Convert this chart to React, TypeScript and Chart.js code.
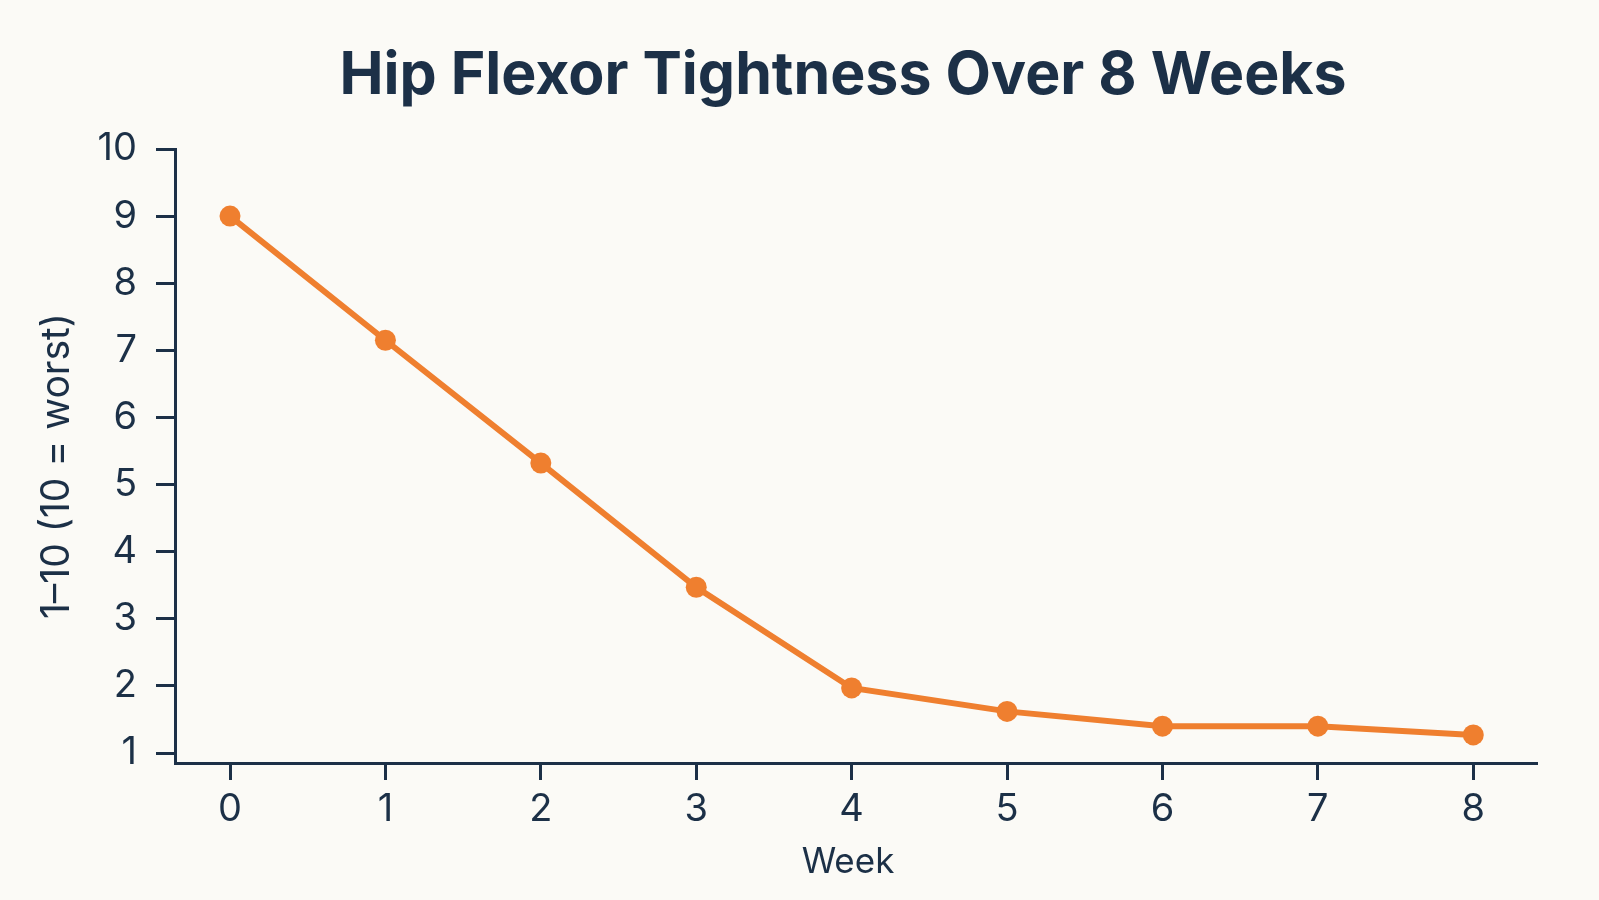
import React, { useEffect, useRef } from "react";
import { Chart, registerables } from "chart.js";

Chart.register(...registerables);

// Weekly self-rated tightness, 1–10 scale
const weeks = [0, 1, 2, 3, 4, 5, 6, 7, 8];
const tightness = [9.0, 7.15, 5.32, 3.47, 1.97, 1.62, 1.4, 1.4, 1.27];
const yTicks = [1, 2, 3, 4, 5, 6, 7, 8, 9, 10];
const chartTitle = "Hip Flexor Tightness Over 8 Weeks";
const xTitle = "Week";
const yTitle = "1–10 (10 = worst)";

const NAVY = "#1c3047";
const ORANGE = "#ef7f2f";
const BG = "#fbfaf6";
const FONT = "Inter, 'Noto Sans', sans-serif";

const background = {
  id: "pageBackground",
  beforeDraw(chart: Chart) {
    const { ctx, width, height } = chart;
    ctx.save();
    ctx.fillStyle = BG;
    ctx.fillRect(0, 0, width, height);
    ctx.restore();
  },
};

// Heading and axis captions, placed relative to the plot area
const captions = {
  id: "captions",
  afterDraw(chart: Chart) {
    const { ctx, chartArea } = chart;
    const midX = (chartArea.left + chartArea.right) / 2;
    const midY = (chartArea.top + chartArea.bottom) / 2;
    ctx.save();
    ctx.fillStyle = NAVY;
    ctx.textAlign = "center";

    ctx.font = `bold 59px ${FONT}`;
    ctx.textBaseline = "alphabetic";
    ctx.fillText(chartTitle, midX - 13, 94);

    ctx.font = `35px ${FONT}`;
    ctx.textBaseline = "middle";
    ctx.fillText(xTitle, midX - 8, chart.height - 38);

    ctx.font = `39px ${FONT}`;
    ctx.translate(57, midY + 10);
    ctx.rotate(-Math.PI / 2);
    ctx.fillText(yTitle, 0, 0);
    ctx.restore();
  },
};

export default function App() {
  const ref = useRef<HTMLCanvasElement | null>(null);

  useEffect(() => {
    document.body.style.margin = "0";
    if (!ref.current) return;
    const chart = new Chart(ref.current, {
      type: "line",
      data: {
        datasets: [
          {
            label: "Tightness",
            data: weeks.map((w, i) => ({ x: w, y: tightness[i] })),
            borderColor: ORANGE,
            backgroundColor: ORANGE,
            borderWidth: 6,
            pointRadius: 10.5,
            pointBorderWidth: 0,
            pointBackgroundColor: ORANGE,
            tension: 0,
          },
        ],
      },
      options: {
        responsive: false,
        animation: false,
        layout: { padding: { left: 0, right: 62, top: 149, bottom: 0 } },
        plugins: {
          legend: { display: false },
          tooltip: { enabled: false },
          title: { display: false },
        },
        scales: {
          x: {
            type: "linear",
            min: -0.354,
            max: 8.41,
            afterFit: (s: any) => {
              s.height = 137;
            },
            afterBuildTicks: (s: any) => {
              s.ticks = weeks.map((v) => ({ value: v }));
            },
            ticks: {
              stepSize: 1,
              includeBounds: false,
              color: NAVY,
              padding: 7,
              font: { family: FONT, size: 38 },
            },
            grid: {
              drawOnChartArea: false,
              drawTicks: true,
              tickLength: 17,
              tickWidth: 3,
              tickColor: NAVY,
            },
            border: { display: true, color: NAVY, width: 3 },
            title: { display: false },
          },
          y: {
            type: "linear",
            min: 0.851,
            max: 10,
            afterFit: (s: any) => {
              s.width = 175;
            },
            afterBuildTicks: (s: any) => {
              s.ticks = yTicks.map((v) => ({ value: v }));
            },
            ticks: {
              stepSize: 1,
              includeBounds: false,
              color: NAVY,
              padding: 19,
              font: { family: FONT, size: 38 },
            },
            grid: {
              drawOnChartArea: false,
              drawTicks: true,
              tickLength: 19,
              tickWidth: 3,
              tickColor: NAVY,
            },
            border: { display: true, color: NAVY, width: 3 },
            title: { display: false },
          },
        },
      },
      plugins: [background, captions],
    });
    return () => chart.destroy();
  }, []);

  return (
    <div style={{ width: 1599, height: 900 }}>
      <canvas ref={ref} width={1599} height={900} />
    </div>
  );
}
